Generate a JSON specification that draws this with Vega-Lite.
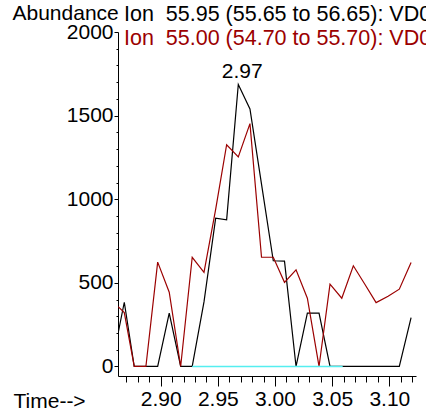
{
  "$schema": "https://vega.github.io/schema/vega-lite/v6.json",
  "width": 298,
  "height": 344,
  "autosize": "none",
  "padding": {"left": 118, "top": 32, "right": 10, "bottom": 39},
  "background": "white",
  "config": {"view": {"stroke": null}, "font": "Liberation Sans"},
  "title": {
    "text": "Ion\u00a0\u00a055.95 (55.65 to 56.65): VD0",
    "subtitle": "Ion\u00a0\u00a055.00 (54.70 to 55.70): VD0",
    "anchor": "start",
    "frame": "group",
    "dx": 6,
    "offset": -47,
    "fontSize": 21.5,
    "fontWeight": "normal",
    "color": "#000000",
    "subtitleColor": "#9b0000",
    "subtitleFontSize": 21.5,
    "subtitlePadding": 2
  },
  "datasets": {
    "ions": [
      {"t": 2.8628, "v": 199, "s": "55.95"},
      {"t": 2.8682, "v": 384, "s": "55.95"},
      {"t": 2.8769, "v": 0, "s": "55.95"},
      {"t": 2.8871, "v": 0, "s": "55.95"},
      {"t": 2.8974, "v": 0, "s": "55.95"},
      {"t": 2.9075, "v": 319, "s": "55.95"},
      {"t": 2.9175, "v": 0, "s": "55.95"},
      {"t": 2.9276, "v": 0, "s": "55.95"},
      {"t": 2.9379, "v": 386, "s": "55.95"},
      {"t": 2.9481, "v": 887, "s": "55.95"},
      {"t": 2.9577, "v": 877, "s": "55.95"},
      {"t": 2.9679, "v": 1686, "s": "55.95"},
      {"t": 2.9781, "v": 1540, "s": "55.95"},
      {"t": 2.9882, "v": 1090, "s": "55.95"},
      {"t": 2.9985, "v": 632, "s": "55.95"},
      {"t": 3.0083, "v": 630, "s": "55.95"},
      {"t": 3.0184, "v": 0, "s": "55.95"},
      {"t": 3.0283, "v": 319, "s": "55.95"},
      {"t": 3.0385, "v": 319, "s": "55.95"},
      {"t": 3.0481, "v": 0, "s": "55.95"},
      {"t": 3.0584, "v": 0, "s": "55.95"},
      {"t": 3.0685, "v": 0, "s": "55.95"},
      {"t": 3.0787, "v": 0, "s": "55.95"},
      {"t": 3.0884, "v": 0, "s": "55.95"},
      {"t": 3.0989, "v": 0, "s": "55.95"},
      {"t": 3.1087, "v": 0, "s": "55.95"},
      {"t": 3.119, "v": 292, "s": "55.95"},
      {"t": 2.8628, "v": 358, "s": "55.00"},
      {"t": 2.8682, "v": 322, "s": "55.00"},
      {"t": 2.8769, "v": 0, "s": "55.00"},
      {"t": 2.8871, "v": 0, "s": "55.00"},
      {"t": 2.8974, "v": 624, "s": "55.00"},
      {"t": 2.9075, "v": 444, "s": "55.00"},
      {"t": 2.9175, "v": 0, "s": "55.00"},
      {"t": 2.9276, "v": 653, "s": "55.00"},
      {"t": 2.9379, "v": 563, "s": "55.00"},
      {"t": 2.9481, "v": 940, "s": "55.00"},
      {"t": 2.9577, "v": 1326, "s": "55.00"},
      {"t": 2.9679, "v": 1253, "s": "55.00"},
      {"t": 2.9781, "v": 1452, "s": "55.00"},
      {"t": 2.9882, "v": 653, "s": "55.00"},
      {"t": 2.9985, "v": 653, "s": "55.00"},
      {"t": 3.0083, "v": 503, "s": "55.00"},
      {"t": 3.0184, "v": 578, "s": "55.00"},
      {"t": 3.0283, "v": 408, "s": "55.00"},
      {"t": 3.0385, "v": 0, "s": "55.00"},
      {"t": 3.0481, "v": 492, "s": "55.00"},
      {"t": 3.0584, "v": 408, "s": "55.00"},
      {"t": 3.0685, "v": 602, "s": "55.00"},
      {"t": 3.0787, "v": 490, "s": "55.00"},
      {"t": 3.0884, "v": 382, "s": "55.00"},
      {"t": 3.0989, "v": 420, "s": "55.00"},
      {"t": 3.1087, "v": 462, "s": "55.00"},
      {"t": 3.119, "v": 621, "s": "55.00"},
      {"t": 2.9276, "v": 0, "s": "baseline"},
      {"t": 3.0592, "v": 0, "s": "baseline"}
    ],
    "peaks": [
      {"t": 2.9679, "v": 1686, "label": "2.97"}
    ]
  },
  "layer": [
    {
      "data": {"name": "ions"},
      "transform": [{"filter": "datum.s === '55.95'"}],
      "mark": {"type": "line", "color": "#000000", "strokeWidth": 1.2, "clip": true},
      "encoding": {
        "x": {
          "field": "t", "type": "quantitative",
          "scale": {"domain": [2.8627, 3.1233], "nice": false, "zero": false},
          "axis": {
            "orient": "bottom",
            "values": [2.9, 2.95, 3.0, 3.05, 3.1],
            "format": ".2f",
            "grid": false,
            "tickSize": 10,
            "tickColor": "#000000",
            "domainColor": "#000000",
            "labelColor": "#000000",
            "labelFontSize": 21,
            "labelPadding": 2,
            "title": "Time-->",
            "titleFontSize": 21,
            "titleFontWeight": "normal",
            "titleColor": "#000000",
            "titleAnchor": "start",
            "titleAlign": "left",
            "titleBaseline": "alphabetic",
            "titleX": -105,
            "titleY": 31
          }
        },
        "y": {
          "field": "v", "type": "quantitative",
          "scale": {"domain": [-57, 2000], "nice": false, "zero": false},
          "axis": {
            "orient": "left",
            "values": [0, 500, 1000, 1500, 2000],
            "format": "d",
            "grid": false,
            "tickSize": 4,
            "tickColor": "#000000",
            "domainColor": "#000000",
            "labelColor": "#000000",
            "labelFontSize": 21,
            "labelPadding": 1,
            "title": "Abundance",
            "titleAngle": 0,
            "titleFontSize": 21,
            "titleFontWeight": "normal",
            "titleColor": "#000000",
            "titleAlign": "left",
            "titleBaseline": "alphabetic",
            "titleX": -106,
            "titleY": -13
          }
        }
      }
    },
    {
      "data": {"name": "ions"},
      "transform": [{"filter": "datum.s === '55.00'"}],
      "mark": {"type": "line", "color": "#9b0000", "strokeWidth": 1.2, "clip": true},
      "encoding": {
        "x": {"field": "t", "type": "quantitative", "axis": null},
        "y": {"field": "v", "type": "quantitative", "axis": null}
      }
    },
    {
      "data": {"name": "ions"},
      "transform": [{"filter": "datum.s === 'baseline'"}],
      "mark": {"type": "line", "color": "#55eef0", "strokeWidth": 1.6, "clip": true},
      "encoding": {
        "x": {"field": "t", "type": "quantitative", "axis": null},
        "y": {"field": "v", "type": "quantitative", "axis": null}
      }
    },
    {
      "data": {"name": "peaks"},
      "mark": {"type": "text", "fontSize": 21, "align": "center", "baseline": "bottom", "dx": 4, "dy": -3, "color": "#000000"},
      "encoding": {
        "x": {"field": "t", "type": "quantitative", "axis": null},
        "y": {"field": "v", "type": "quantitative", "axis": null},
        "text": {"field": "label"}
      }
    },
    {
      "data": {"name": "ions"},
      "mark": {"type": "point", "opacity": 0},
      "encoding": {
        "x": {
          "field": "t", "type": "quantitative",
          "axis": {
            "orient": "top",
            "offset": -344,
            "values": [2.87, 2.88, 2.89, 2.91, 2.92, 2.93, 2.94, 2.96, 2.97, 2.98, 2.99, 3.01, 3.02, 3.03, 3.04, 3.06, 3.07, 3.08, 3.09, 3.11, 3.12],
            "labels": false,
            "domain": false,
            "grid": false,
            "tickSize": -6,
            "tickColor": "#000000",
            "title": null
          }
        },
        "y": {
          "field": "v", "type": "quantitative",
          "axis": {
            "orient": "right",
            "offset": -298,
            "values": [100, 200, 300, 400, 600, 700, 800, 900, 1100, 1200, 1300, 1400, 1600, 1700, 1800, 1900],
            "labels": false,
            "domain": false,
            "grid": false,
            "tickSize": -2,
            "tickColor": "#000000",
            "title": null
          }
        }
      }
    }
  ],
  "resolve": {"axis": {"x": "independent", "y": "independent"}}
}
